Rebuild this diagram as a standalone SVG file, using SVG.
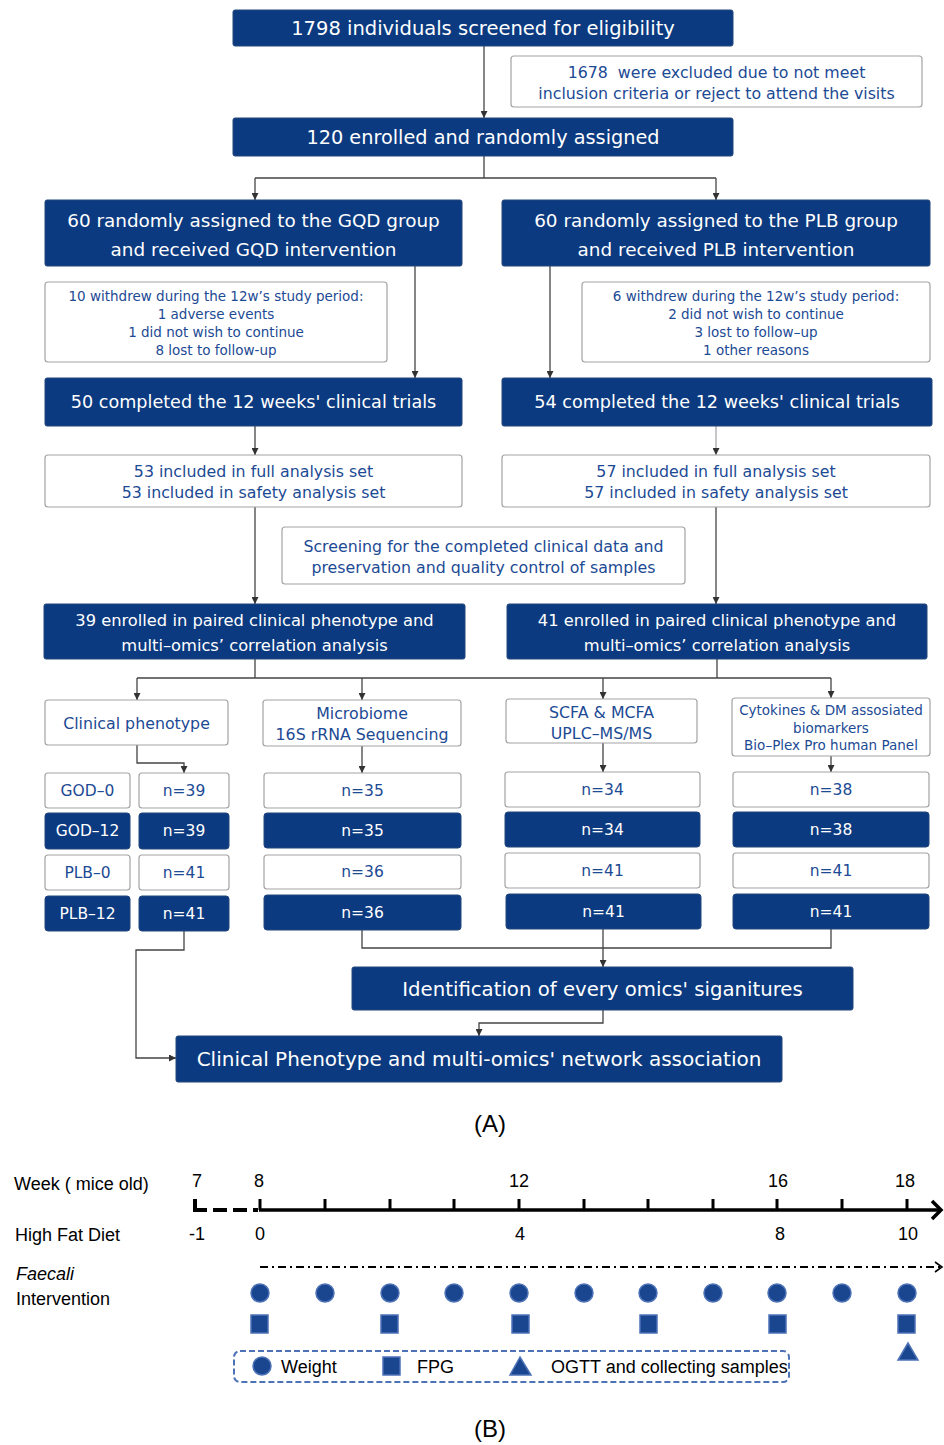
<svg xmlns="http://www.w3.org/2000/svg" width="944" height="1445" viewBox="0 0 944 1445">
<defs>
<marker id="ah" viewBox="0 0 10 10" refX="10" refY="5" markerWidth="7" markerHeight="7" markerUnits="userSpaceOnUse" orient="auto">
<path d="M0,0 L10,5 L0,10 z" fill="#333"/>
</marker>
<style>
.nb{fill:#0b3a80;stroke:#24467c;stroke-width:1}
.wb{fill:#fff;stroke:#a3a3a3;stroke-width:1.2}
text{font-family:"DejaVu Sans","Liberation Sans",sans-serif;text-anchor:middle;dominant-baseline:central}
.tw{fill:#fff}
.tb{fill:#1c4a94}
.cn{fill:none;stroke:#444;stroke-width:1.3}
.cl{fill:none;stroke:#999;stroke-width:1.1}
.ar{marker-end:url(#ah)}
.bt{font-family:"Liberation Sans",Arial,sans-serif;text-anchor:start;dominant-baseline:alphabetic;fill:#000;font-size:18px}
.bm{font-family:"Liberation Sans",Arial,sans-serif;text-anchor:middle;dominant-baseline:alphabetic;fill:#000;font-size:18px}
.sh{fill:#1a4690;stroke:#4d72b6;stroke-width:1.5}
.ax{fill:none;stroke:#000;stroke-width:3.5}
</style>
</defs>
<rect width="944" height="1445" fill="#fff"/>

<g id="connectors">
<path class="cn ar" d="M484,46 V118"/>
<path class="cn" d="M484,156 V178 M255,178 H716"/>
<path class="cn ar" d="M255,178 V200"/>
<path class="cn ar" d="M716,178 V200"/>
<path class="cn ar" d="M415,266 V378"/>
<path class="cn ar" d="M550,266 V378"/>
<path class="cn ar" d="M255,426 V455"/>
<path class="cl ar" d="M716,426 V455"/>
<path class="cn ar" d="M255,507 V604"/>
<path class="cn ar" d="M716,507 V604"/>
<path class="cn" d="M255,659 V678 M717,659 V678 M137,678 H831"/>
<path class="cn ar" d="M137,678 V700"/>
<path class="cn ar" d="M362,678 V700"/>
<path class="cn ar" d="M603,678 V699"/>
<path class="cn ar" d="M831,678 V698"/>
<path class="cn ar" d="M137,745 V763 H184 V773"/>
<path class="cn ar" d="M362,746 V773"/>
<path class="cn ar" d="M603,743 V772"/>
<path class="cn ar" d="M831,756 V772"/>
<path class="cn ar" d="M184,931 V950 H136 V1058 H176"/>
<path class="cn" d="M362,930 V948 H831 V929"/>
<path class="cn ar" d="M603,929 V967"/>
<path class="cn ar" d="M603,1010 V1023 H479 V1036"/>
</g>

<g id="n-screened"><rect class="nb" x="233" y="10" width="500" height="36" rx="2"/><text class="tw" x="483" y="28" font-size="19.5">1798 individuals screened for eligibility</text></g>
<g id="n-excluded"><rect class="wb" x="511" y="56" width="411" height="51" rx="3"/><text class="tb" x="716.5" y="72" font-size="15.8">1678&#160; were excluded due to not meet</text><text class="tb" x="716.5" y="93" font-size="15.8">inclusion criteria or reject to attend the visits</text></g>
<g id="n-enrolled"><rect class="nb" x="233" y="118" width="500" height="38" rx="2"/><text class="tw" x="483" y="137" font-size="19.3">120 enrolled and randomly assigned</text></g>
<g id="n-gqd"><rect class="nb" x="45" y="200" width="417" height="66" rx="2"/><text class="tw" x="253.5" y="220" font-size="18.4">60 randomly assigned to the GQD group</text><text class="tw" x="253.5" y="249" font-size="18.4">and received GQD intervention</text></g>
<g id="n-plb"><rect class="nb" x="502" y="200" width="428" height="66" rx="2"/><text class="tw" x="716" y="220" font-size="18.4">60 randomly assigned to the PLB group</text><text class="tw" x="716" y="249" font-size="18.4">and received PLB intervention</text></g>
<g id="n-withdraw-gqd"><rect class="wb" x="45" y="282" width="342" height="80" rx="3"/><text class="tb" x="216" y="296" font-size="13.5">10 withdrew during the 12w’s study period:</text><text class="tb" x="216" y="314" font-size="13.5">1 adverse events</text><text class="tb" x="216" y="332" font-size="13.5">1 did not wish to continue</text><text class="tb" x="216" y="350" font-size="13.5">8 lost to follow-up</text></g>
<g id="n-withdraw-plb"><rect class="wb" x="582" y="282" width="348" height="80" rx="3"/><text class="tb" x="756" y="296" font-size="13.5">6 withdrew during the 12w’s study period:</text><text class="tb" x="756" y="314" font-size="13.5">2 did not wish to continue</text><text class="tb" x="756" y="332" font-size="13.5">3 lost to follow–up</text><text class="tb" x="756" y="350" font-size="13.5">1 other reasons</text></g>
<g id="n-completed-gqd"><rect class="nb" x="45" y="378" width="417" height="48" rx="2"/><text class="tw" x="253.5" y="402" font-size="17.6">50 completed the 12 weeks' clinical trials</text></g>
<g id="n-completed-plb"><rect class="nb" x="502" y="378" width="430" height="48" rx="2"/><text class="tw" x="717" y="402" font-size="17.6">54 completed the 12 weeks' clinical trials</text></g>
<g id="n-analysis-gqd"><rect class="wb" x="45" y="455" width="417" height="52" rx="3"/><text class="tb" x="253.5" y="471" font-size="15.8">53 included in full analysis set</text><text class="tb" x="253.5" y="492" font-size="15.8">53 included in safety analysis set</text></g>
<g id="n-analysis-plb"><rect class="wb" x="502" y="455" width="428" height="52" rx="3"/><text class="tb" x="716" y="471" font-size="15.8">57 included in full analysis set</text><text class="tb" x="716" y="492" font-size="15.8">57 included in safety analysis set</text></g>
<g id="n-screening"><rect class="wb" x="282" y="527" width="403" height="57" rx="3"/><text class="tb" x="483.5" y="546" font-size="15.8">Screening for the completed clinical data and</text><text class="tb" x="483.5" y="567" font-size="15.8">preservation and quality control of samples</text></g>
<g id="n-paired-gqd"><rect class="nb" x="44" y="604" width="421" height="55" rx="2"/><text class="tw" x="254.5" y="620" font-size="16.3">39 enrolled in paired clinical phenotype and</text><text class="tw" x="254.5" y="645" font-size="16.3">multi–omics’ correlation analysis</text></g>
<g id="n-paired-plb"><rect class="nb" x="507" y="604" width="420" height="55" rx="2"/><text class="tw" x="717" y="620" font-size="16.3">41 enrolled in paired clinical phenotype and</text><text class="tw" x="717" y="645" font-size="16.3">multi–omics’ correlation analysis</text></g>

<g id="n-clinical"><rect class="wb" x="45" y="700" width="183" height="45" rx="3"/><text class="tb" x="136.5" y="723" font-size="15.8">Clinical phenotype</text></g>
<g id="n-microbiome"><rect class="wb" x="263" y="700" width="198" height="46" rx="3"/><text class="tb" x="362" y="713" font-size="15.8">Microbiome</text><text class="tb" x="362" y="734" font-size="15.8">16S rRNA Sequencing</text></g>
<g id="n-scfa"><rect class="wb" x="506" y="699" width="191" height="44" rx="3"/><text class="tb" x="601.5" y="712" font-size="15.8">SCFA &amp; MCFA</text><text class="tb" x="601.5" y="733" font-size="15.8">UPLC–MS/MS</text></g>
<g id="n-cytokines"><rect class="wb" x="732" y="698" width="198" height="58" rx="3"/><text class="tb" x="831" y="710" font-size="13.5">Cytokines &amp; DM assosiated</text><text class="tb" x="831" y="728" font-size="13.5">biomarkers</text><text class="tb" x="831" y="745" font-size="13.5">Bio–Plex Pro human Panel</text></g>

<g id="n-god0"><rect class="wb" x="45" y="773" width="85" height="35" rx="3"/><text class="tb" x="87.5" y="790.5" font-size="15.5">GOD–0</text></g>
<g id="n-god12"><rect class="nb" x="45" y="813" width="85" height="36" rx="3"/><text class="tw" x="87.5" y="831" font-size="15.5">GOD–12</text></g>
<g id="n-plb0"><rect class="wb" x="45" y="855" width="85" height="35" rx="3"/><text class="tb" x="87.5" y="872.5" font-size="15.5">PLB–0</text></g>
<g id="n-plb12"><rect class="nb" x="45" y="896" width="85" height="35" rx="3"/><text class="tw" x="87.5" y="913.5" font-size="15.5">PLB–12</text></g>

<g id="n-cp-1"><rect class="wb" x="139" y="773" width="90" height="35" rx="3"/><text class="tb" x="184" y="790.5" font-size="15.5">n=39</text></g>
<g id="n-cp-2"><rect class="nb" x="139" y="813" width="90" height="36" rx="3"/><text class="tw" x="184" y="831" font-size="15.5">n=39</text></g>
<g id="n-cp-3"><rect class="wb" x="139" y="855" width="90" height="35" rx="3"/><text class="tb" x="184" y="872.5" font-size="15.5">n=41</text></g>
<g id="n-cp-4"><rect class="nb" x="139" y="896" width="90" height="35" rx="3"/><text class="tw" x="184" y="913.5" font-size="15.5">n=41</text></g>

<g id="n-mb-1"><rect class="wb" x="264" y="773" width="197" height="35" rx="3"/><text class="tb" x="362.5" y="790.5" font-size="15.5">n=35</text></g>
<g id="n-mb-2"><rect class="nb" x="264" y="813" width="197" height="35" rx="3"/><text class="tw" x="362.5" y="830.5" font-size="15.5">n=35</text></g>
<g id="n-mb-3"><rect class="wb" x="264" y="855" width="197" height="34" rx="3"/><text class="tb" x="362.5" y="872" font-size="15.5">n=36</text></g>
<g id="n-mb-4"><rect class="nb" x="264" y="895" width="197" height="35" rx="3"/><text class="tw" x="362.5" y="912.5" font-size="15.5">n=36</text></g>

<g id="n-sc-1"><rect class="wb" x="505" y="772" width="195" height="35" rx="3"/><text class="tb" x="602.5" y="789.5" font-size="15.5">n=34</text></g>
<g id="n-sc-2"><rect class="nb" x="505" y="812" width="195" height="35" rx="3"/><text class="tw" x="602.5" y="829.5" font-size="15.5">n=34</text></g>
<g id="n-sc-3"><rect class="wb" x="505" y="853" width="195" height="35" rx="3"/><text class="tb" x="602.5" y="870.5" font-size="15.5">n=41</text></g>
<g id="n-sc-4"><rect class="nb" x="506" y="894" width="195" height="35" rx="3"/><text class="tw" x="603.5" y="911.5" font-size="15.5">n=41</text></g>

<g id="n-cy-1"><rect class="wb" x="733" y="772" width="196" height="35" rx="3"/><text class="tb" x="831" y="789.5" font-size="15.5">n=38</text></g>
<g id="n-cy-2"><rect class="nb" x="733" y="812" width="196" height="35" rx="3"/><text class="tw" x="831" y="829.5" font-size="15.5">n=38</text></g>
<g id="n-cy-3"><rect class="wb" x="733" y="853" width="196" height="35" rx="3"/><text class="tb" x="831" y="870.5" font-size="15.5">n=41</text></g>
<g id="n-cy-4"><rect class="nb" x="733" y="894" width="196" height="35" rx="3"/><text class="tw" x="831" y="911.5" font-size="15.5">n=41</text></g>

<g id="n-identification"><rect class="nb" x="352" y="967" width="501" height="43" rx="2"/><text class="tw" x="602.5" y="989" font-size="19.7">Identification of every omics' siganitures</text></g>
<g id="n-network"><rect class="nb" x="176" y="1036" width="606" height="46" rx="2"/><text class="tw" x="479" y="1059" font-size="20">Clinical Phenotype and multi-omics' network association</text></g>

<text class="bm" x="490" y="1132" style="font-size:24px">(A)</text>

<g id="timeline">
<text class="bt" x="14" y="1190">Week ( mice old)</text>
<text class="bt" x="15" y="1241">High Fat Diet</text>
<text class="bt" x="16" y="1280" font-style="italic">Faecali</text>
<text class="bt" x="16" y="1305">Intervention</text>
<text class="bm" x="197" y="1187">7</text>
<text class="bm" x="259" y="1187">8</text>
<text class="bm" x="519" y="1187">12</text>
<text class="bm" x="778" y="1187">16</text>
<text class="bm" x="905" y="1187">18</text>
<text class="bm" x="197" y="1240">-1</text>
<text class="bm" x="260" y="1240">0</text>
<text class="bm" x="520" y="1240">4</text>
<text class="bm" x="780" y="1240">8</text>
<text class="bm" x="908" y="1240">10</text>
<path d="M195,1199 V1210 H207" fill="none" stroke="#000" stroke-width="4"/>
<path d="M213,1210 H258" fill="none" stroke="#000" stroke-width="4" stroke-dasharray="14,6"/>
<path class="ax" d="M259,1210 H940"/>
<path class="ax" d="M932,1201 L941,1210 L932,1219"/>
<path fill="none" stroke="#000" stroke-width="3" d="M260,1199V1210 M325,1199V1210 M390,1199V1210 M454,1199V1210 M519,1199V1210 M584,1199V1210 M648,1199V1210 M713,1199V1210 M777,1199V1210 M842,1199V1210 M907,1199V1210"/>
<path fill="none" stroke="#000" stroke-width="2" stroke-dasharray="8,4,2,4" d="M260,1267 H940"/>
<path fill="none" stroke="#000" stroke-width="1.6" d="M935,1262 L942,1267 L935,1272"/>
<g id="weights">
<circle class="sh" cx="260" cy="1293" r="9"/><circle class="sh" cx="325" cy="1293" r="9"/><circle class="sh" cx="390" cy="1293" r="9"/><circle class="sh" cx="454" cy="1293" r="9"/><circle class="sh" cx="519" cy="1293" r="9"/><circle class="sh" cx="584" cy="1293" r="9"/><circle class="sh" cx="648" cy="1293" r="9"/><circle class="sh" cx="713" cy="1293" r="9"/><circle class="sh" cx="777" cy="1293" r="9"/><circle class="sh" cx="842" cy="1293" r="9"/><circle class="sh" cx="907" cy="1293" r="9"/>
</g>
<g id="fpg">
<rect class="sh" x="251" y="1315" width="17" height="18"/><rect class="sh" x="381" y="1315" width="17" height="18"/><rect class="sh" x="512" y="1315" width="17" height="18"/><rect class="sh" x="640" y="1315" width="17" height="18"/><rect class="sh" x="769" y="1315" width="17" height="18"/><rect class="sh" x="898" y="1315" width="17" height="18"/>
</g>
<polygon class="sh" points="908,1343 898,1360 918,1360"/>
<g id="legend">
<rect x="234" y="1351" width="555" height="31" rx="6" fill="none" stroke="#4d72b6" stroke-width="2" stroke-dasharray="6,3"/>
<circle class="sh" cx="262" cy="1366" r="9"/>
<text class="bt" x="281" y="1373">Weight</text>
<rect class="sh" x="383" y="1357" width="17" height="18"/>
<text class="bt" x="417" y="1373">FPG</text>
<polygon class="sh" points="520,1357 510,1375 531,1375"/>
<text class="bt" x="551" y="1373">OGTT and collecting samples</text>
</g>
</g>

<text class="bm" x="490" y="1437" style="font-size:24px">(B)</text>
</svg>
